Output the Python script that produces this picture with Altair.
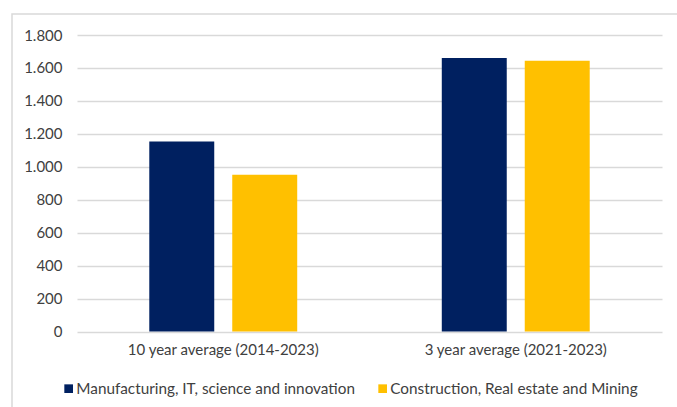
import altair as alt
import pandas as pd

categories = ["10 year average (2014-2023)", "3 year average (2021-2023)"]
series = ["Manufacturing, IT, science and innovation", "Construction, Real estate and Mining"]
manufacturing = [1154, 1661]
construction = [951, 1644]
colors = ["#002060", "#FFC000"]

rows = []
for i, c in enumerate(categories):
    rows.append({"period": c, "sector": series[0], "value": manufacturing[i]})
    rows.append({"period": c, "sector": series[1], "value": construction[i]})
df = pd.DataFrame(rows)

FONT = "Lato"
TXT = "#404040"
FS = 15

bars = alt.Chart(df).mark_bar().encode(
    x=alt.X("period:N", sort=categories, title=None,
            scale=alt.Scale(paddingInner=0.45, paddingOuter=0.225),
            axis=alt.Axis(labelAngle=0, domain=False, ticks=False, labelPadding=11,
                          labelLimit=400,
                          labelFontSize=FS, labelColor=TXT, labelFont=FONT)),
    xOffset=alt.XOffset("sector:N", sort=series,
                        scale=alt.Scale(paddingInner=0.217, paddingOuter=0.078)),
    y=alt.Y("value:Q", title=None,
            scale=alt.Scale(domain=[0, 1800], nice=False),
            axis=alt.Axis(values=list(range(0, 1801, 200)), domain=False, ticks=False,
                          labelPadding=15, labelFontSize=FS, labelColor=TXT, labelFont=FONT,
                          gridColor="#d9d9d9", gridWidth=1.5,
                          labelExpr="replace(format(datum.value, ','), ',', '.')")),
    color=alt.Color("sector:N", sort=series, title=None,
                    scale=alt.Scale(domain=series, range=colors),
                    legend=alt.Legend(orient="none", legendX=-16, legendY=346,
                                      direction="horizontal", columns=2, columnPadding=20,
                                      symbolType="square", symbolSize=75, symbolStrokeWidth=0,
                                      labelFontSize=15.3, labelColor=TXT, labelFont=FONT,
                                      labelOffset=0, labelLimit=400)),
)

border = alt.Chart(pd.DataFrame({"b": [0]})).mark_rect(
    fill=None, stroke="#d9d9d9", strokeWidth=1.5
).encode(x=alt.value(-65), x2=alt.value(700), y=alt.value(-21), y2=alt.value(420))

chart = alt.layer(border, bars).properties(
    width=585, height=296.5,
    autosize=alt.AutoSizeParams(type="none"),
    padding={"left": 77, "top": 35, "right": 15, "bottom": 76},
    background="white",
).configure_view(stroke=None)

chart.save("out.html", embed_options={"renderer": "svg", "actions": False})
